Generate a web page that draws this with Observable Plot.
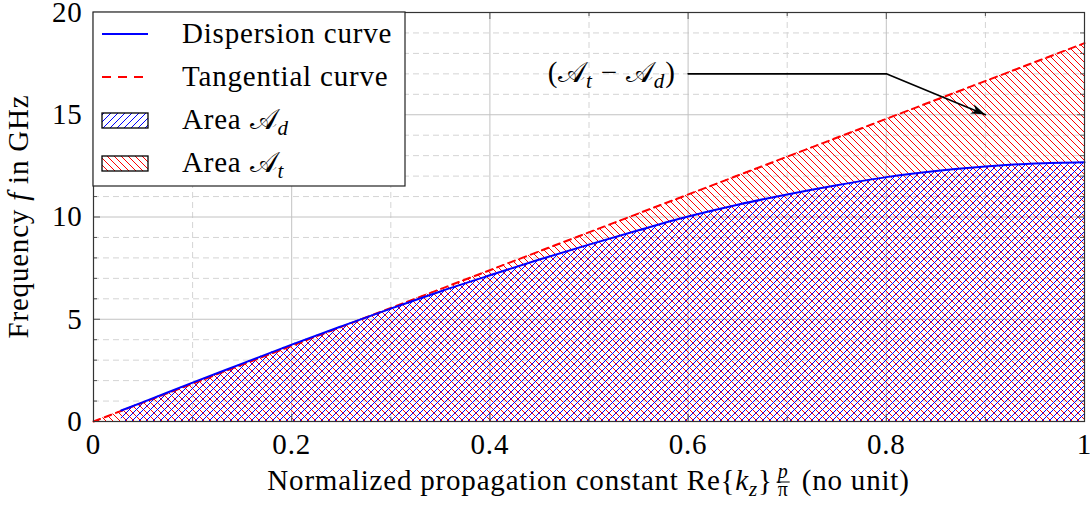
<!DOCTYPE html>
<html>
<head>
<meta charset="utf-8">
<script src="https://cdn.jsdelivr.net/npm/d3@7"></script>
<script src="https://cdn.jsdelivr.net/npm/@observablehq/plot@0.6"></script>
<style>
  html, body { margin: 0; padding: 0; background: #fff; }
  #chart { position: relative; width: 1090px; height: 510px; }
</style>
</head>
<body>
<div id="chart"></div>
<script>
// ---------- data ----------
const xTicks = [0, 0.2, 0.4, 0.6, 0.8, 1];
const xMinorTicks = [0.1, 0.3, 0.5, 0.7, 0.9];
const yTicks = [0, 5, 10, 15, 20];
const yMinorTicks = [1, 2, 3, 4, 6, 7, 8, 9, 11, 12, 13, 14, 16, 17, 18, 19];

const dispersionX = [0.028, 0.05, 0.1, 0.15, 0.2, 0.25, 0.3, 0.35, 0.4, 0.45, 0.5, 0.55, 0.6, 0.65, 0.7, 0.75, 0.8, 0.85, 0.9, 0.95, 1];
const dispersionF = [0.54, 0.95, 1.9, 2.83, 3.76, 4.65, 5.52, 6.36, 7.15, 7.92, 8.65, 9.35, 10.02, 10.6, 11.1, 11.55, 11.95, 12.25, 12.47, 12.62, 12.68];

const tangentX = [0, 1];
const tangentF = [0, 18.5];

const annotationX = [0.6, 0.8, 0.9];
const annotationF = [17, 17, 15];

const legendLabels = ["Dispersion curve", "Tangential curve", "Area ", "Area "];
const legendSubs = [null, null, "d", "t"];

// ---------- tables ----------
const disp = dispersionX.map((x, i) => ({x, f: dispersionF[i]}));
const tang = tangentX.map((x, i) => ({x, f: tangentF[i]}));
const ann = annotationX.map((x, i) => ({x, f: annotationF[i]}));

const W = 1090, H = 510;
const mL = 93, mR = 6, mT = 12, mB = 89;
const frameW = W - mL - mR, frameH = H - mT - mB;
const FONT = "'Liberation Serif', 'Times New Roman', serif";
const FS = 29;
const LS = "0.8px";
const tickColor = "#555";

const plot = Plot.plot({
  width: W, height: H,
  marginLeft: mL, marginRight: mR, marginTop: mT, marginBottom: mB,
  x: {domain: [0, 1]},
  y: {domain: [0, 20]},
  style: {fontFamily: FONT, fontSize: FS + "px", letterSpacing: LS, background: "#fff", color: "#000"},
  marks: [
    // grid
    Plot.ruleX(xMinorTicks, {stroke: "#d4d4d4", strokeDasharray: "6 4", strokeWidth: 1}),
    Plot.ruleY(yMinorTicks, {stroke: "#d4d4d4", strokeDasharray: "6 4", strokeWidth: 1}),
    Plot.ruleX(xTicks, {stroke: "#c2c2c2", strokeWidth: 1}),
    Plot.ruleY(yTicks, {stroke: "#c2c2c2", strokeWidth: 1}),
    // hatched areas
    Plot.areaY(tang, {x: "x", y: "f", fill: "url(#hatchT)"}),
    Plot.areaY(disp, {x: "x", y: "f", fill: "url(#hatchD)", curve: "monotone-x"}),
    // curves
    Plot.line(tang, {x: "x", y: "f", stroke: "#ff0000", strokeWidth: 2, strokeDasharray: "7 5"}),
    Plot.line(disp, {x: "x", y: "f", stroke: "#0000ff", strokeWidth: 2, curve: "monotone-x"}),
    // inward ticks on all four sides
    Plot.tickY(yTicks, {y: d => d, stroke: tickColor, insetRight: frameW - 7}),
    Plot.tickY(yMinorTicks, {y: d => d, stroke: tickColor, insetRight: frameW - 4}),
    Plot.tickY(yTicks, {y: d => d, stroke: tickColor, insetLeft: frameW - 7}),
    Plot.tickY(yMinorTicks, {y: d => d, stroke: tickColor, insetLeft: frameW - 4}),
    Plot.tickX(xTicks, {x: d => d, stroke: tickColor, insetTop: frameH - 7}),
    Plot.tickX(xMinorTicks, {x: d => d, stroke: tickColor, insetTop: frameH - 4}),
    Plot.tickX(xTicks, {x: d => d, stroke: tickColor, insetBottom: frameH - 7}),
    Plot.tickX(xMinorTicks, {x: d => d, stroke: tickColor, insetBottom: frameH - 4}),
    Plot.frame({stroke: "#333", strokeWidth: 1.2}),
    // axes labels
    Plot.axisX({ticks: xTicks, tickSize: 0, tickPadding: 12, tickFormat: d3.format("~g"), label: null}),
    Plot.axisY({ticks: yTicks, tickSize: 0, tickPadding: 11, tickFormat: d3.format("~g"), label: null}),
    // annotation leader
    Plot.line(ann, {x: "x", y: "f", stroke: "#000", strokeWidth: 1.6})
  ]
});

document.getElementById("chart").appendChild(plot);
const svg = d3.select(plot);
const sx = plot.scale("x"), sy = plot.scale("y");

// ---------- hatch patterns ----------
const defs = svg.insert("defs", ":first-child");
function hatch(id, color, d) {
  defs.append("pattern").attr("id", id)
    .attr("patternUnits", "userSpaceOnUse").attr("width", 7).attr("height", 7)
    .append("path").attr("d", d).attr("stroke", color).attr("stroke-width", 1).attr("fill", "none");
}
hatch("hatchT", "#ff0000", "M0,0L7,7M-1,6L1,8M6,-1L8,1");
hatch("hatchD", "#0000ff", "M0,7L7,0M-1,1L1,-1M6,8L8,6");

// ---------- rich text helper ----------
function rich(textSel, parts) {
  let shift = 0;
  for (const p of parts) {
    const t = textSel.append("tspan").text(p.t);
    if (p.i) t.attr("font-style", "italic");
    const want = p.sub ? 6 : 0;
    if (want !== shift) { t.attr("dy", want - shift); shift = want; }
    if (p.sub) t.attr("font-size", "21px");
  }
  return textSel;
}
const CAL = "𝒜";

// ---------- annotation text + arrow head ----------
{
  const x0 = sx.apply(annotationX[0]) - 12, y0 = sy.apply(annotationF[0]) + 9;
  const t = svg.append("text").attr("x", x0).attr("y", y0).attr("text-anchor", "end")
    .attr("font-family", FONT).attr("font-size", FS);
  rich(t, [{t: "("}, {t: CAL}, {t: "t", i: true, sub: true}, {t: " − "}, {t: CAL}, {t: "d", i: true, sub: true}, {t: ")"}]);
  const px1 = sx.apply(annotationX[1]), py1 = sy.apply(annotationF[1]);
  const px2 = sx.apply(annotationX[2]), py2 = sy.apply(annotationF[2]);
  const dx = px2 - px1, dy = py2 - py1, len = Math.hypot(dx, dy);
  const ux = dx / len, uy = dy / len, nx = -uy, ny = ux;
  const L = 14, w = 5;
  const pts = [
    [px2, py2],
    [px2 - L * ux + w * nx, py2 - L * uy + w * ny],
    [px2 - 0.7 * L * ux, py2 - 0.7 * L * uy],
    [px2 - L * ux - w * nx, py2 - L * uy - w * ny]
  ];
  svg.append("polygon").attr("points", pts.map(p => p.join(",")).join(" ")).attr("fill", "#000");
}

// ---------- legend ----------
{
  const g = svg.append("g").attr("font-family", FONT).attr("font-size", FS).attr("text-anchor", "start");
  g.append("rect").attr("x", mL).attr("y", mT).attr("width", 312).attr("height", 174)
    .attr("fill", "#fff").attr("stroke", "#222").attr("stroke-width", 1.2);
  const rows = [34, 77, 120, 163];
  g.append("line").attr("x1", 102).attr("x2", 148).attr("y1", rows[0]).attr("y2", rows[0])
    .attr("stroke", "#0000ff").attr("stroke-width", 2);
  g.append("line").attr("x1", 102).attr("x2", 148).attr("y1", rows[1]).attr("y2", rows[1])
    .attr("stroke", "#ff0000").attr("stroke-width", 2).attr("stroke-dasharray", "9 7");
  g.append("rect").attr("x", 102).attr("y", rows[2] - 7).attr("width", 46).attr("height", 15)
    .attr("fill", "url(#hatchD)").attr("stroke", "#000").attr("stroke-width", 1.3);
  g.append("rect").attr("x", 102).attr("y", rows[3] - 7).attr("width", 46).attr("height", 15)
    .attr("fill", "url(#hatchT)").attr("stroke", "#000").attr("stroke-width", 1.3);
  legendLabels.forEach((lab, i) => {
    const t = g.append("text").attr("x", 182).attr("y", rows[i] + 9);
    const parts = [{t: lab}];
    if (legendSubs[i]) { parts.push({t: CAL}); parts.push({t: legendSubs[i], i: true, sub: true}); }
    rich(t, parts);
  });
}

// ---------- axis titles ----------
{
  // y title
  const t = svg.append("text").attr("transform", `translate(28,${mT + frameH / 2}) rotate(-90)`)
    .attr("text-anchor", "middle").attr("font-family", FONT).attr("font-size", FS);
  rich(t, [{t: "Frequency "}, {t: "f", i: true}, {t: " in GHz"}]);

  // x title with fraction
  const g = svg.append("g").attr("font-family", FONT).attr("font-size", FS).attr("text-anchor", "start");
  const base = 490;
  const t1 = g.append("text").attr("x", 0).attr("y", base);
  rich(t1, [{t: "Normalized propagation constant Re{"}, {t: "k", i: true}, {t: "z", i: true, sub: true}, {t: "}"}]);
  const w1 = t1.node().getComputedTextLength();
  const fx = w1 + 4, fw = 13;
  g.append("text").attr("x", fx + fw / 2).attr("y", base - 12).attr("text-anchor", "middle")
    .attr("font-size", 20).attr("font-style", "italic").text("p");
  g.append("line").attr("x1", fx).attr("x2", fx + fw).attr("y1", base - 8).attr("y2", base - 8)
    .attr("stroke", "#000").attr("stroke-width", 1);
  g.append("text").attr("x", fx + fw / 2).attr("y", base + 6).attr("text-anchor", "middle")
    .attr("font-size", 20).text("π");
  const t2 = g.append("text").attr("x", fx + fw + 4).attr("y", base).text(" (no unit)");
  const w2 = t2.node().getComputedTextLength();
  const total = fx + fw + 4 + w2;
  g.attr("transform", `translate(${mL + frameW / 2 - total / 2},0)`);
}
</script>
</body>
</html>
